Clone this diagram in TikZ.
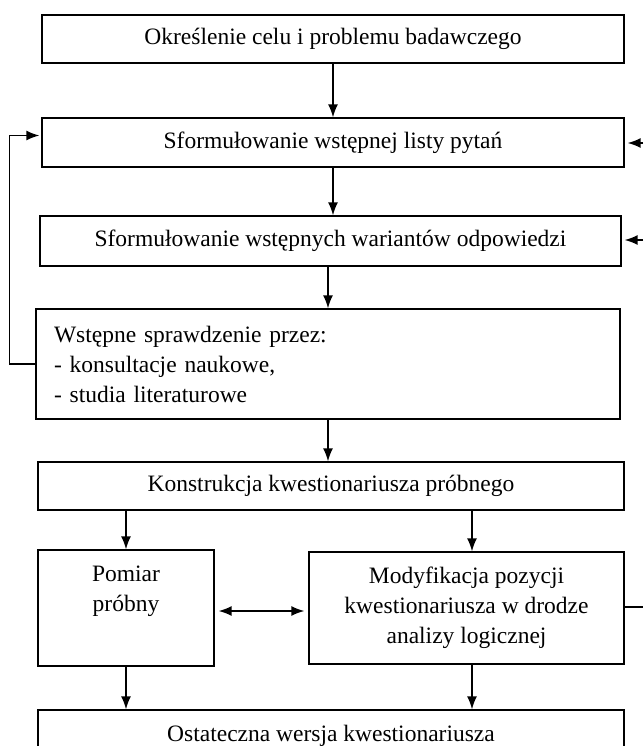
\documentclass[tikz,border=0pt]{standalone}
\usepackage{fontspec}
\setmainfont{Liberation Serif}
\usetikzlibrary{arrows.meta}
\begin{document}
\begin{tikzpicture}[x=1pt,y=-1pt,
  box/.style={draw,line width=1.3pt,inner sep=0pt,align=center,
    font=\fontsize{23.5}{30}\selectfont},
  arr/.style={-{Latex[length=13pt,width=10pt]},line width=1.5pt}]
  \clip (0,0) rectangle (643,746);
  % boxes
  \node[box,minimum width=582,minimum height=48] (cel) at (333,39)
    {Określenie celu i problemu badawczego};
  \node[box,minimum width=582,minimum height=49] (lista) at (333,142.5)
    {Sformułowanie wstępnej listy pytań};
  \node[box,minimum width=581,minimum height=50] (warianty) at (330.5,241)
    {Sformułowanie wstępnych wariantów odpowiedzi};
  \node[box,minimum width=584,minimum height=110,text width=548,align=left]
    (sprawdzenie) at (328,364)
    {Wstępne sprawdzenie przez:\\- konsultacje naukowe,\\- studia literaturowe};
  \node[box,minimum width=586,minimum height=48] (konstrukcja) at (331,486)
    {Konstrukcja kwestionariusza próbnego};
  \node[box,minimum width=176,minimum height=116] (pomiar) at (126,608)
    {Pomiar\\próbny\\\strut};
  \node[box,minimum width=315,minimum height=112] (modyfikacja) at (466.5,608)
    {Modyfikacja pozycji\\kwestionariusza w drodze\\analizy logicznej};
  \node[box,minimum width=586,minimum height=52] (wersja) at (331,736)
    {Ostateczna wersja kwestionariusza};
  % free ends at the right edge
  \coordinate (wejscieA) at (643,143);
  \coordinate (wejscieB) at (643,240);
  \coordinate (wyjscie) at (643,607);
  % arrows
  \draw[arr] (cel) -- (lista);
  \draw[arr] (lista.south) -- (lista.south |- warianty.north);
  \draw[arr] (warianty.south -| sprawdzenie.north) -- (sprawdzenie.north);
  \draw[arr] (sprawdzenie.south) -- (sprawdzenie.south |- konstrukcja.north);
  \draw[arr] (konstrukcja.south -| pomiar.north) -- (pomiar.north);
  \draw[arr] ([xshift=5.5pt]konstrukcja.south -| modyfikacja.north)
    -- ([xshift=5.5pt]modyfikacja.north);
  \draw[arr] (pomiar.south) -- (pomiar.south |- wersja.north);
  \draw[arr] ([xshift=5.5pt]modyfikacja.south)
    -- ([xshift=5.5pt]modyfikacja.south |- wersja.north);
  \draw[arr,{Latex[length=13pt,width=10pt]}-{Latex[length=13pt,width=10pt]},
    shorten <=4pt,shorten >=4pt]
    ([yshift=-3pt]pomiar.east) -- ([yshift=-3pt]pomiar.east -| modyfikacja.west);
  \draw[arr,shorten >=2pt] (sprawdzenie.west) -- ++(-26,0)
    |- ([yshift=7pt]lista.west);
  \draw[arr,shorten >=3pt] (wejscieA) -- (wejscieA -| lista.east);
  \draw[arr,shorten >=3pt] (wejscieB) -- (wejscieB -| warianty.east);
  \draw[line width=1.5pt] (modyfikacja.east |- wyjscie) -- (wyjscie);
\end{tikzpicture}
\end{document}
